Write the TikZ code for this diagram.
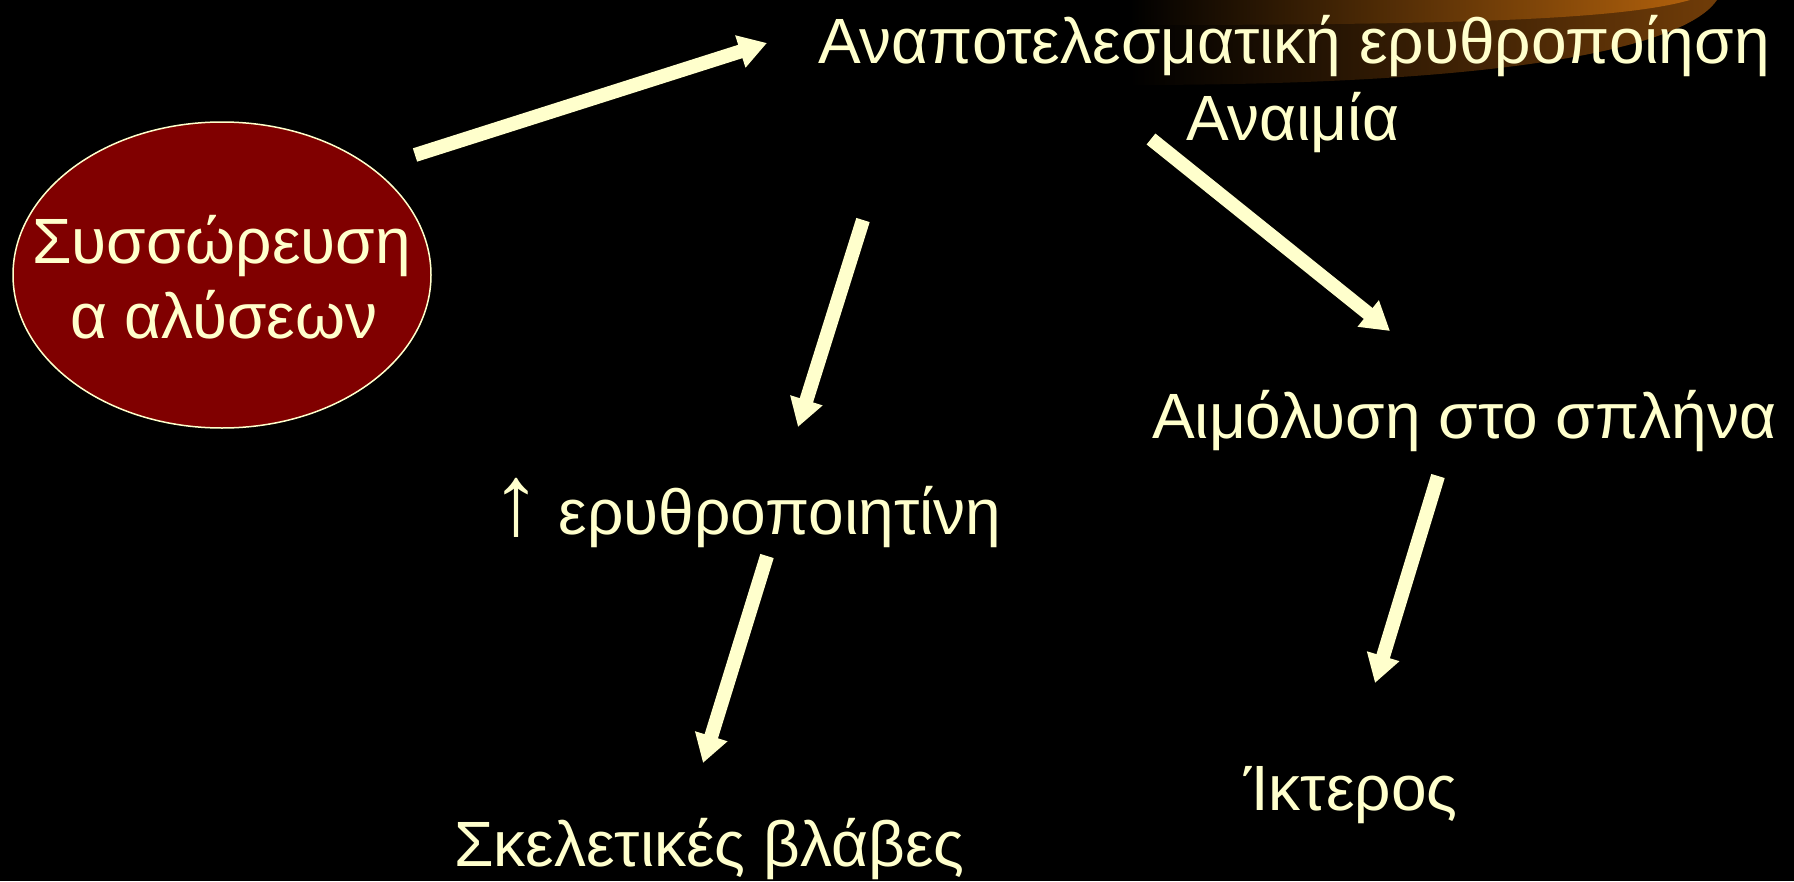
\documentclass[tikz,border=0pt]{standalone}
\usepackage{fontspec}
\setmainfont{Liberation Sans}
\usetikzlibrary{arrows.meta,shapes.geometric}
\definecolor{txt}{HTML}{FFFFCC}
\definecolor{blood}{HTML}{800000}
\definecolor{swooshA}{HTML}{703C08}
\definecolor{swooshAm}{HTML}{5E3207}
\definecolor{swooshB}{HTML}{B0600C}
\definecolor{swooshBm}{HTML}{9E540B}
\tikzset{
  lbl/.style={anchor=base west, inner sep=0pt, text=txt, font=\fontsize{64}{75}\selectfont},
  blockarrow/.style={draw=txt, line width=14pt, line cap=butt,
    -{Triangle[width=32pt,length=28pt]}},
}
\begin{document}
\begin{tikzpicture}[x=1pt,y=-1pt]
\fill[black] (0,0) rectangle (1794,881);
\useasboundingbox (0,0) rectangle (1794,881);
% swoosh decoration
\shade[left color=black, middle color=swooshAm, right color=swooshA]
  (1130,0) -- (1130,85) .. controls (1550,85) and (1690,40) .. (1717,0) -- cycle;
\shade[left color=black, middle color=swooshBm, right color=swooshB]
  (1130,0) -- (1130,25) .. controls (1450,25) and (1620,20) .. (1690,0) -- cycle;
% ellipse
\node[ellipse, draw=txt, line width=1.5pt, fill=blood, minimum width=418pt,
  minimum height=306pt, inner sep=0pt] (ell) at (222,275) {};
\node[lbl] (s1) at (32,263) {Συσσώρευση};
\node[lbl] (s2) at (70,338) {α αλύσεων};
% texts
\node[lbl] (top) at (818,63) {Αναποτελεσματική ερυθροποίηση};
\node[lbl] (anaim) at (1186,140) {Αναιμία};
\node[lbl] (erythro) at (491,534) {{\fontsize{100}{75}\selectfont ↑}\fontsize{64}{75}\selectfont{} ερυθροποιητίνη};
\node[lbl] (aimol) at (1152,438) {Αιμόλυση στο σπλήνα};
\node[lbl] (ikt) at (1244,810) {Ίκτερος};
\node[lbl] (skel) at (454,866) {Σκελετικές βλάβες};
% connector endpoints
\coordinate (a1s) at (415,155);  \coordinate (a1e) at (767,43);
\coordinate (a2s) at (1151,139); \coordinate (a2e) at (1390,331);
\coordinate (a3s) at (863,220);  \coordinate (a3e) at (798,427);
\coordinate (a4s) at (767,556);  \coordinate (a4e) at (703,763);
\coordinate (a5s) at (1438,476); \coordinate (a5e) at (1375,683);
\draw[blockarrow] (a1s) -- (a1e);
\draw[blockarrow] (a2s) -- (a2e);
\draw[blockarrow] (a3s) -- (a3e);
\draw[blockarrow] (a4s) -- (a4e);
\draw[blockarrow] (a5s) -- (a5e);
\end{tikzpicture}
\end{document}
